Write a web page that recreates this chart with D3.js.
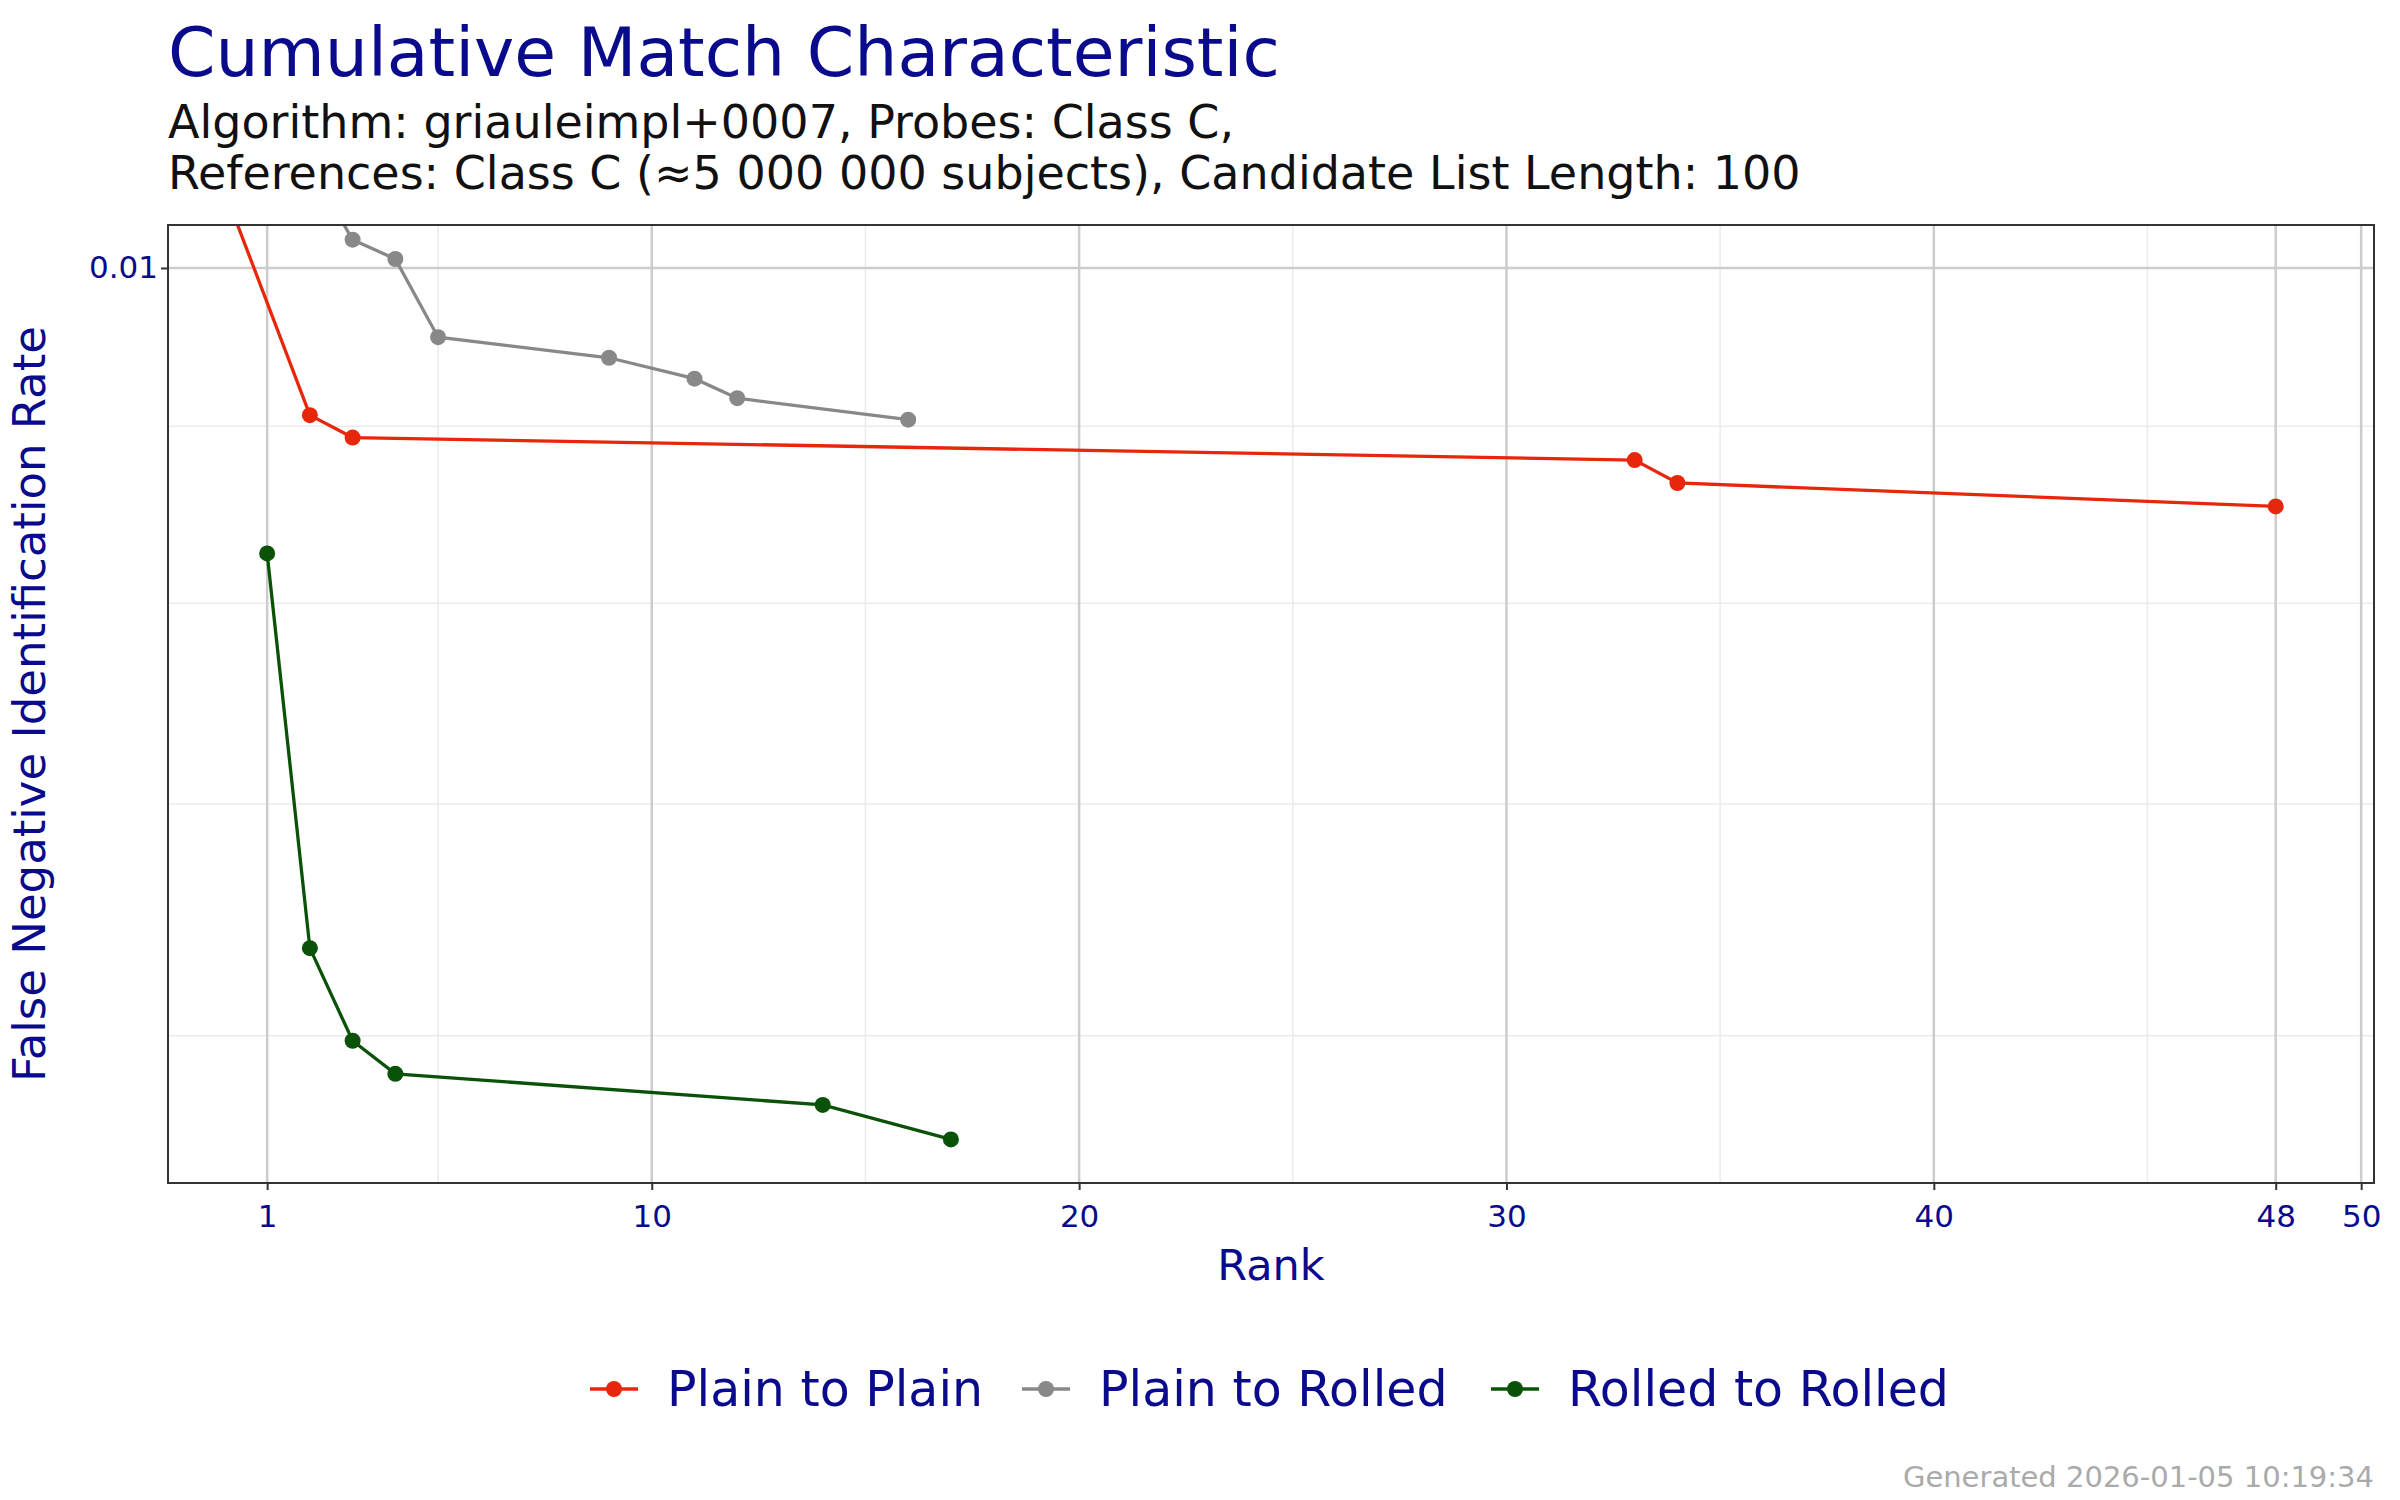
<!DOCTYPE html>
<html>
<head>
<meta charset="utf-8">
<script src="https://cdn.jsdelivr.net/npm/d3@7"></script>
<style>
  body { margin: 0; background: #fff; }
  text { font-family: "DejaVu Sans", sans-serif; }
</style>
</head>
<body>
<svg id="chart" width="2400" height="1500"></svg>
<script>
const seriesNames = ["Plain to Plain", "Plain to Rolled", "Rolled to Rolled"]
const seriesColors = ["#e8260c", "#888888", "#0a5208"]

const plainRank = [0, 2, 3, 33, 34, 48]
const plainFnir = [0.01053, 0.009067, 0.008933, 0.0088, 0.008667, 0.008533]

const rolledRank = [2, 3, 4, 5, 9, 11, 12, 16]
const rolledFnir = [0.0107, 0.01019, 0.01006, 0.00955, 0.00942, 0.00929, 0.00917, 0.00904]

const rrRank = [1, 2, 3, 4, 14, 17]
const rrFnir = [0.00827, 0.00636, 0.00598, 0.00585, 0.00573, 0.0056]

const xTicks = [1, 10, 20, 30, 40, 48, 50]
const xMinor = [5, 15, 25, 35, 45]
const yTicks = [0.01]
const yMinor = [0.009, 0.008, 0.007, 0.006]

const series = [
    {name: seriesNames[0], color: seriesColors[0], pts: plainRank.map((r, i) => ({x: r, y: plainFnir[i]}))},
    {name: seriesNames[1], color: seriesColors[1], pts: rolledRank.map((r, i) => ({x: r, y: rolledFnir[i]}))},
    {name: seriesNames[2], color: seriesColors[2], pts: rrRank.map((r, i) => ({x: r, y: rrFnir[i]}))},
]

const svg = d3.select("#chart")
const margin = {top: 225, right: 26, bottom: 317, left: 168}
const width = 2400 - margin.left - margin.right
const height = 1500 - margin.top - margin.bottom
const navy = "#0a0a8c"

const x = d3.scaleLinear().domain([-1.32, 50.3]).range([0, width])
const y = d3.scaleLog().domain([0.00544, 0.01029]).range([height, 0])

svg.append("text").attr("x", 168).attr("y", 76).attr("font-size", 68).attr("fill", navy)
    .text("Cumulative Match Characteristic")
svg.append("text").attr("x", 168).attr("y", 138).attr("font-size", 46).attr("fill", "#111")
    .text("Algorithm: griauleimpl+0007, Probes: Class C,")
svg.append("text").attr("x", 168).attr("y", 189).attr("font-size", 46).attr("fill", "#111")
    .text("References: Class C (\u22485 000 000 subjects), Candidate List Length: 100")

const g = svg.append("g").attr("transform", `translate(${margin.left},${margin.top})`)
g.append("defs").append("clipPath").attr("id", "clip").append("rect").attr("width", width).attr("height", height)

g.selectAll(".xminor").data(xMinor).enter().append("line")
    .attr("x1", d => x(d)).attr("x2", d => x(d)).attr("y1", 0).attr("y2", height)
    .attr("stroke", "#ebebeb").attr("stroke-width", 1.5)
g.selectAll(".yminor").data(yMinor).enter().append("line")
    .attr("x1", 0).attr("x2", width).attr("y1", d => y(d)).attr("y2", d => y(d))
    .attr("stroke", "#ebebeb").attr("stroke-width", 1.5)
g.selectAll(".xmajor").data(xTicks).enter().append("line")
    .attr("x1", d => x(d)).attr("x2", d => x(d)).attr("y1", 0).attr("y2", height)
    .attr("stroke", "#cccccc").attr("stroke-width", 2.5)
g.selectAll(".ymajor").data(yTicks).enter().append("line")
    .attr("x1", 0).attr("x2", width).attr("y1", d => y(d)).attr("y2", d => y(d))
    .attr("stroke", "#cccccc").attr("stroke-width", 2.5)

const axisX = d3.axisBottom(x).tickValues(xTicks).tickFormat(d3.format("d")).tickSizeOuter(0).tickSize(7)
const axisY = d3.axisLeft(y).tickValues(yTicks).tickFormat(d => d).tickSizeOuter(0).tickSize(7)
const ax = g.append("g").attr("transform", `translate(0,${height})`).call(axisX)
const ay = g.append("g").call(axisY)
;[ax, ay].forEach(a => {
    a.select(".domain").remove()
    a.selectAll(".tick line").attr("stroke", "#333").attr("stroke-width", 2)
    a.selectAll(".tick text").attr("font-size", 31).attr("fill", navy).attr("font-family", "DejaVu Sans")
})
ax.selectAll(".tick text").attr("dy", "1.1em")

const line = d3.line().x(d => x(d.x)).y(d => y(d.y))
const plot = g.append("g").attr("clip-path", "url(#clip)")
series.forEach(s => {
    plot.append("path").datum(s.pts).attr("d", line).attr("fill", "none")
        .attr("stroke", s.color).attr("stroke-width", 3.3)
    plot.selectAll(null).data(s.pts).enter().append("circle")
        .attr("cx", d => x(d.x)).attr("cy", d => y(d.y)).attr("r", 8).attr("fill", s.color)
})

g.append("rect").attr("width", width).attr("height", height).attr("fill", "none")
    .attr("stroke", "#333").attr("stroke-width", 2)

svg.append("text").attr("x", margin.left + width / 2).attr("y", 1280).attr("text-anchor", "middle")
    .attr("font-size", 43).attr("fill", navy).text("Rank")
svg.append("text").attr("transform", `translate(45,${margin.top + height / 2}) rotate(-90)`)
    .attr("text-anchor", "middle").attr("font-size", 45).attr("fill", navy).text("False Negative Identification Rate")

const legendX = [590, 1022, 1491]
series.forEach((s, i) => {
    const lg = svg.append("g").attr("transform", `translate(${legendX[i]},1389)`)
    lg.append("line").attr("x1", 0).attr("x2", 48).attr("stroke", s.color).attr("stroke-width", 3.3)
    lg.append("circle").attr("cx", 24).attr("r", 8).attr("fill", s.color)
    lg.append("text").attr("x", 77).attr("dy", "0.35em").attr("font-size", 49).attr("fill", navy).text(s.name)
})

svg.append("text").attr("x", 2374).attr("y", 1487).attr("text-anchor", "end")
    .attr("font-size", 29).attr("fill", "#aaaaaa").text("Generated 2026-01-05 10:19:34")
</script>
</body>
</html>
